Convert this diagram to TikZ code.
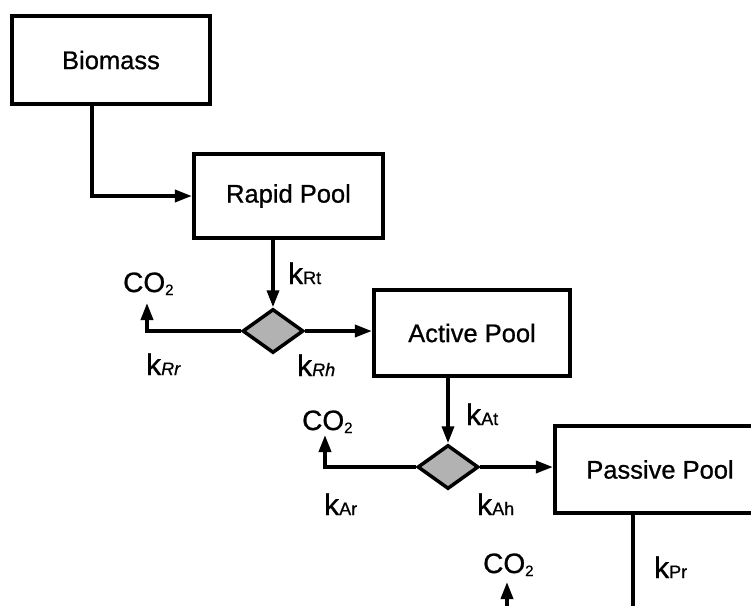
\documentclass[tikz,border=0pt]{standalone}
\usepackage{fontspec}
\setmainfont{Liberation Sans}[FakeBold=0.8]
\usetikzlibrary{shapes.geometric,arrows.meta}
\newcommand\ksub[1]{{\fontsize{18}{18}\selectfont #1}}
\newcommand\cotwo{CO\raisebox{-3pt}{\fontsize{15}{15}\selectfont 2}}
\begin{document}
\begin{tikzpicture}[x=1pt,y=-1pt,
 box/.style={draw,line width=4.2pt,rectangle,inner sep=0pt,font=\fontsize{25.5}{30}\selectfont},
 split/.style={draw,line width=3.5pt,diamond,fill=gray!60,minimum width=61pt,minimum height=44pt,inner sep=0pt},
 flow/.style={line width=3.5pt,-{Triangle[length=17pt,width=12pt]}},
 plain/.style={line width=3.5pt},
 lbl/.style={anchor=base west,inner sep=0pt,font=\fontsize{28}{30}\selectfont},
 klbl/.style={lbl,font=\fontsize{30}{30}\selectfont}]
\useasboundingbox (0,0) rectangle (751,605);
\clip (0,0) rectangle (751,605);
\node[box,minimum width=198pt,minimum height=88pt] (bio) at (111,60) {Biomass};
\node[box,minimum width=189pt,minimum height=84pt] (rapid) at (288.5,196) {Rapid Pool};
\node[box,minimum width=196pt,minimum height=86pt] (active) at (472,333) {Active Pool};
\node[box,minimum width=210pt,minimum height=87pt] (passive) at (660,469.5) {Passive Pool};
\node[split] (d1) at (273,331) {};
\node[split] (d2) at (448,467) {};
\coordinate (c1) at (147,303);
\coordinate (c2) at (325,435);
\coordinate (pend) at (633,612);
\coordinate (c3b) at (507,612);
\coordinate (c3) at (507,582);
\draw[flow] ([xshift=-19pt]bio.south) |- (rapid.west);
\draw[flow] (rapid.south -| d1.north) -- (d1.north);
\draw[flow] (d1.west) -| (c1);
\draw[flow] (d1.east) -- (d1.east -| active.west);
\draw[flow] (active.south -| d2.north) -- (d2.north);
\draw[flow] (d2.west) -| (c2);
\draw[flow] (d2.east) -- (d2.east -| passive.west);
\draw[plain] (passive.south -| pend) -- (pend);
\draw[flow] (c3b) -- (c3);
\node[klbl] (kRt) at (288,284) {k\ksub{Rt}};
\node[lbl] (co1) at (123,292) {\cotwo};
\node[klbl] (kRr) at (146,375) {k\ksub{\itshape Rr}};
\node[klbl] (kRh) at (297,376) {k\ksub{\itshape Rh}};
\node[klbl] (kAt) at (466,425) {k\ksub{At}};
\node[lbl] (co2) at (302,430) {\cotwo};
\node[klbl] (kAr) at (324,515) {k\ksub{Ar}};
\node[klbl] (kAh) at (477,515) {k\ksub{Ah}};
\node[lbl] (co3) at (483,573) {\cotwo};
\node[klbl] (kPr) at (654,578) {k\ksub{Pr}};
\end{tikzpicture}
\end{document}
